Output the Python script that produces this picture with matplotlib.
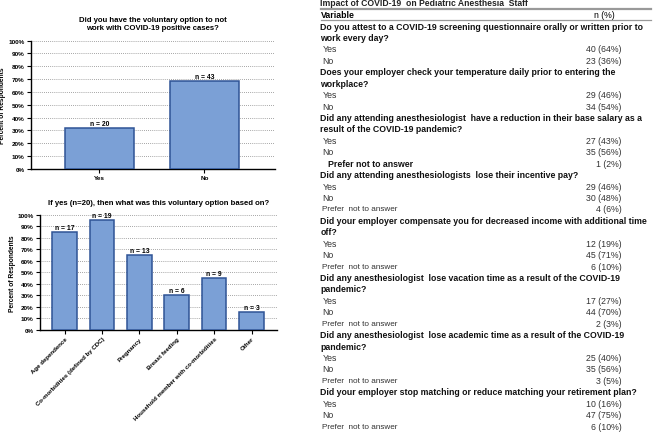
import numpy as np
import matplotlib.pyplot as plt
from matplotlib.ticker import PercentFormatter

plt.rcParams['font.family'] = ['Liberation Sans', 'DejaVu Sans']

# top chart
opt_labels = ['Yes', 'No']
opt_counts = [20, 43]
opt_total = 63

# bottom chart
basis_labels = ['Age dependence', 'Co-morbidities (defined by CDC)', 'Pregnancy',
                'Breast feeding', 'Household member with co-morbidities', 'Other']
basis_counts = [17, 19, 13, 6, 9, 3]
basis_total = 20

# table
table_title = 'Impact of COVID-19  on Pediatric Anesthesia  Staff'
questions = [
    ['Do you attest to a COVID-19 screening questionnaire orally or written prior to',
     'work every day?'],
    ['Does your employer check your temperature daily prior to entering the',
     'workplace?'],
    ['Did any attending anesthesiologist  have a reduction in their base salary as a',
     'result of the COVID-19 pandemic?'],
    ['Did any attending anesthesiologists  lose their incentive pay?'],
    ['Did your employer compensate you for decreased income with additional time',
     'off?'],
    ['Did any anesthesiologist  lose vacation time as a result of the COVID-19',
     'pandemic?'],
    ['Did any anesthesiologist  lose academic time as a result of the COVID-19',
     'pandemic?'],
    ['Did your employer stop matching or reduce matching your retirement plan?'],
]
answers = [
    [('Yes', '40 (64%)'), ('No', '23 (36%)')],
    [('Yes', '29 (46%)'), ('No', '34 (54%)')],
    [('Yes', '27 (43%)'), ('No', '35 (56%)'), ('Prefer not to answer', '1 (2%)')],
    [('Yes', '29 (46%)'), ('No', '30 (48%)'), ('Prefer  not to answer', '4 (6%)')],
    [('Yes', '12 (19%)'), ('No', '45 (71%)'), ('Prefer  not to answer', '6 (10%)')],
    [('Yes', '17 (27%)'), ('No', '44 (70%)'), ('Prefer  not to answer', '2 (3%)')],
    [('Yes', '25 (40%)'), ('No', '35 (56%)'), ('Prefer  not to answer', '3 (5%)')],
    [('Yes', '10 (16%)'), ('No', '47 (75%)'), ('Prefer  not to answer', '6 (10%)')],
]

W, H = 655, 435
fig = plt.figure(figsize=(W / 100, H / 100), dpi=100)

face = '#7ba0d6'
edge = '#2f5496'


def bar_chart(ax, labels, counts, total, title, rot):
    x = np.arange(len(labels))
    pct = np.array(counts) / total * 100
    ax.bar(x, pct, width=0.66, color=face, edgecolor=edge, linewidth=1.1, zorder=3)
    for xi, p, n in zip(x, pct, counts):
        ax.text(xi, p + 1.2, 'n = %d' % n, ha='center', va='bottom',
                fontsize=4.9, fontweight='bold', zorder=4)
    ax.set_ylim(0, 100)
    ax.set_yticks(np.arange(0, 101, 10))
    ax.yaxis.set_major_formatter(PercentFormatter(decimals=0))
    ax.grid(axis='y', linestyle=(0, (1, 1.5)), color='#888888', linewidth=0.6, zorder=0)
    ax.spines['top'].set_visible(False)
    ax.spines['right'].set_visible(False)
    ax.spines['left'].set_linewidth(1.0)
    ax.spines['bottom'].set_linewidth(1.0)
    ax.tick_params(axis='both', length=3, width=0.8, pad=1.5, labelsize=4.6)
    ax.set_xticks(x)
    if rot:
        ax.set_xticklabels(labels, rotation=45, ha='right', rotation_mode='anchor',
                           fontsize=4.4)
    else:
        ax.set_xticklabels(labels)
    for t in ax.get_xticklabels() + ax.get_yticklabels():
        t.set_fontweight('bold')
    ax.set_ylabel('Percent of Respondents', fontsize=4.8, fontweight='bold')
    ax.yaxis.set_label_coords(-0.1, 0.5)
    ax.set_title(title, fontsize=5.6, fontweight='bold', pad=8, linespacing=1.35)


ax1 = fig.add_axes([30.7 / W, 1 - 170 / H, 244 / W, 128.5 / H])
bar_chart(ax1, opt_labels, opt_counts, opt_total,
          'Did you have the voluntary option to not\nwork with COVID-19 positive cases?', False)
ax1.set_xlim(-0.655, 1.67)

ax2 = fig.add_axes([40 / W, 1 - 330.7 / H, 237 / W, 115 / H])
bar_chart(ax2, basis_labels, basis_counts, basis_total,
          'If yes (n=20), then what was this voluntary option based on?', True)
ax2.set_xlim(-0.655, 5.68)

# table drawn in pixel coordinates
tx = 320.5
vx = 621.5
fs = 6.3


def fy(py):
    return 1 - py / H


fig.text(tx / W, fy(4.0), table_title, fontsize=6.2, fontweight='bold',
         va='center', ha='left', color='#222222')
fig.add_artist(plt.Line2D([tx / W, 651 / W], [fy(9.5), fy(9.5)], color='#999999', linewidth=1.6))
fig.text(tx / W, fy(15.5), 'Variable', fontsize=fs, fontweight='bold', va='center', ha='left')
fig.text(604 / W, fy(15.5), 'n (%)', fontsize=fs, va='center', ha='center')
fig.add_artist(plt.Line2D([tx / W, 651 / W], [fy(21), fy(21)], color='#999999', linewidth=0.9))

row = 0
step = 11.43
for qi, (q, ans) in enumerate(zip(questions, answers)):
    for line in q:
        fig.text(tx / W, fy(27 + row * step), line, fontsize=fs, fontweight='bold',
                 va='center', ha='left', color='#111111')
        row += 1
    for lab, val in ans:
        y = fy(27 + row * step)
        if qi == 2 and lab.startswith('Prefer'):
            fig.text((tx + 8) / W, y, lab, fontsize=fs, fontweight='bold',
                     va='center', ha='left', color='#111111')
        elif lab.startswith('Prefer'):
            fig.text((tx + 2) / W, y, lab, fontsize=5.9,
                     va='center', ha='left', color='#333333')
        else:
            fig.text((tx + 2) / W, y, lab, fontsize=fs,
                     va='center', ha='left', color='#333333')
        fig.text(vx / W, y, val, fontsize=fs, va='center', ha='right', color='#333333')
        row += 1

fig.savefig('out.png', dpi=100)
